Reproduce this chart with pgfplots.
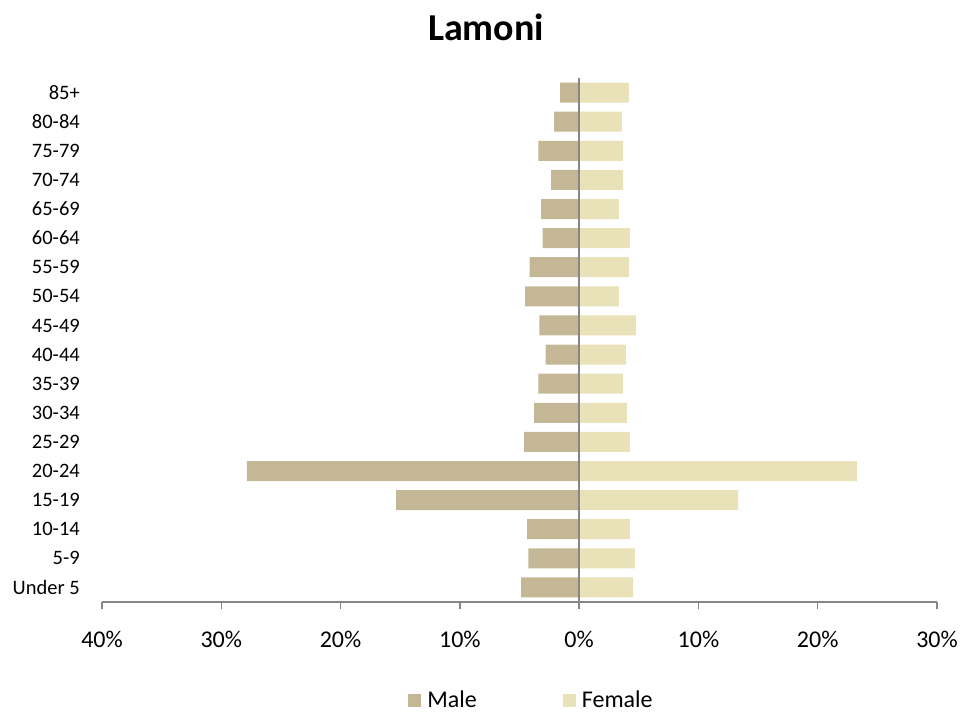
\documentclass[border=0pt]{standalone}
\usepackage{pgfplots}
\pgfplotsset{compat=1.18}
\usepackage{fontspec}
\setmainfont{Carlito}
\definecolor{male}{RGB}{196,183,149}
\definecolor{female}{RGB}{233,226,184}
\definecolor{axgray}{RGB}{134,134,134}
\begin{document}
\begin{tikzpicture}
\useasboundingbox (-102pt,-111pt) rectangle (877pt,602pt);
\begin{axis}[
  at={(0,0)}, anchor=south west,
  scale only axis,
  width=835pt, height=524pt,
  xmin=-40, xmax=30,
  ymin=-0.5, ymax=17.5,
  xbar, bar width=20pt,
  axis y line=none,
  axis x line*=bottom,
  axis line style={axgray, line width=1.8pt},
  x axis line style={-},
  xtick={-40,-30,-20,-10,0,10,20,30},
  xticklabels={40\%,30\%,20\%,10\%,0\%,10\%,20\%,30\%},
  tick align=outside,
  major tick length=7pt,
  tick style={axgray, line width=1.3pt},
  xticklabel style={font=\fontsize{24}{28}\selectfont, yshift=-19pt},
  ytick={0,...,17},
  yticklabels={Under 5,5-9,10-14,15-19,20-24,25-29,30-34,35-39,40-44,45-49,50-54,55-59,60-64,65-69,70-74,75-79,80-84,85+},
  /pgf/number format/assume math mode=true,
  legend columns=2,
  legend style={draw=none, fill=none, at={(429.5pt,-98pt)}, anchor=center,
    font=\fontsize{24}{28}\selectfont,
    /tikz/every even column/.append style={column sep=84pt}},
  legend image code/.code={\fill[#1] (0pt,-6.5pt) rectangle (13pt,6.5pt); \path (13pt,0pt) -- (17pt,0pt);},
  clip=false,
]
\addplot[fill=male, draw=none, bar shift=0pt] coordinates {
(-4.86,0) (-4.25,1) (-4.36,2) (-15.34,3) (-27.86,4) (-4.61,5) (-3.77,6) (-3.41,7) (-2.82,8)
(-3.33,9) (-4.53,10) (-4.16,11) (-3.07,12) (-3.18,13) (-2.35,14) (-3.41,15) (-2.10,16) (-1.60,17)};
\addplot[fill=female, draw=none, bar shift=0pt] coordinates {
(4.53,0) (4.67,1) (4.25,2) (13.33,3) (23.30,4) (4.25,5) (4.00,6) (3.69,7) (3.91,8)
(4.75,9) (3.33,10) (4.17,11) (4.25,12) (3.33,13) (3.69,14) (3.69,15) (3.58,16) (4.17,17)};
\legend{Male,Female}
\draw[axgray, line width=1.5pt] (axis cs:0,17.5) -- (axis cs:0,-0.5);
\pgfplotsforeachungrouped \i/\lab in {0/Under 5,1/5-9,2/10-14,3/15-19,4/20-24,5/25-29,6/30-34,7/35-39,8/40-44,9/45-49,10/50-54,11/55-59,12/60-64,13/65-69,14/70-74,15/75-79,16/80-84,17/85+}{
  \edef\tmp{\noexpand\node[anchor=east, inner sep=0pt, font=\noexpand\fontsize{20.5}{24}\noexpand\selectfont] at (axis cs:-40,\i) [xshift=-22pt] {\lab};}
  \tmp
}
\end{axis}
\node[font=\fontsize{38}{44}\selectfont\bfseries] at (384pt,575pt) {Lamoni};
\end{tikzpicture}
\end{document}
